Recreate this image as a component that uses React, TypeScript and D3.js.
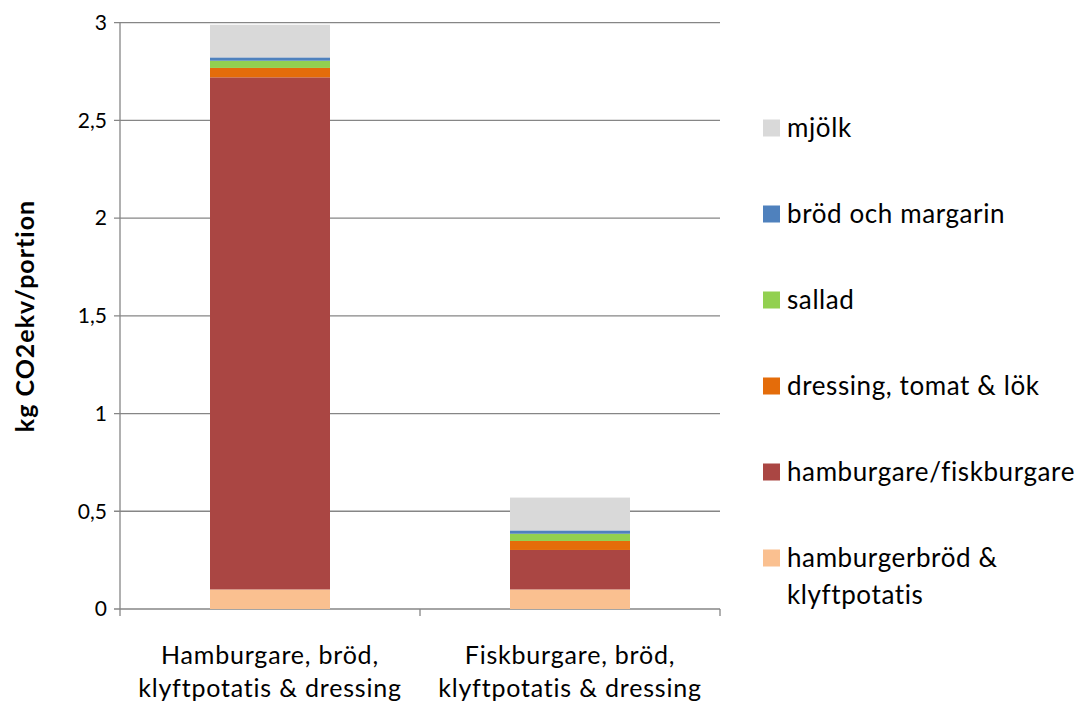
import React from "react";
import * as d3 from "d3";

const categories = [
  ["Hamburgare, bröd,", "klyftpotatis & dressing"],
  ["Fiskburgare, bröd,", "klyftpotatis & dressing"],
];
const seriesNames = [
  "hamburgerbröd & klyftpotatis",
  "hamburgare/fiskburgare",
  "dressing, tomat & lök",
  "sallad",
  "bröd och margarin",
  "mjölk",
];
const seriesColors = ["#FAC090", "#AA4643", "#E46C0A", "#92D050", "#4F81BD", "#D9D9D9"];
const brodKlyft = [0.1, 0.1];
const burgare = [2.62, 0.202];
const dressing = [0.048, 0.046];
const sallad = [0.037, 0.037];
const brodMargarin = [0.017, 0.017];
const mjolk = [0.167, 0.168];
const yTicks = [0, 0.5, 1, 1.5, 2, 2.5, 3];
const legendLabels = [
  ["mjölk"],
  ["bröd och margarin"],
  ["sallad"],
  ["dressing, tomat & lök"],
  ["hamburgare/fiskburgare"],
  ["hamburgerbröd &", "klyftpotatis"],
];
const legendColors = ["#D9D9D9", "#4F81BD", "#92D050", "#E46C0A", "#AA4643", "#FAC090"];

export default function App() {
  const W = 1082, H = 702;
  const left = 120, right = 720, top = 22.6, bottom = 609;
  const font = "Lato, sans-serif";
  const y = d3.scaleLinear().domain([0, 3]).range([bottom, top]);
  const x = d3.scaleBand().domain(["0", "1"]).range([left, right]).paddingInner(0.6).paddingOuter(0.3);
  const values = [brodKlyft, burgare, dressing, sallad, brodMargarin, mjolk];
  const rows = categories.map((_, i) => {
    const r: any = { i };
    seriesNames.forEach((s, k) => (r[s] = values[k][i]));
    return r;
  });
  const stacked = d3.stack<any>().keys(seriesNames)(rows);
  const axisColor = "#868686";
  const fmt = (v: number) => String(v).replace(".", ",");
  return (
    <svg width={W} height={H} style={{ position: "absolute", left: 0, top: 0 }}>
      <rect width={W} height={H} fill="#fff" />
      {yTicks.map((t) => (
        <g key={t}>
          <line x1={left - 6} x2={right} y1={y(t)} y2={y(t)} stroke={axisColor} strokeWidth={1.3} />
          <text x={107} y={y(t)} dy="0.35em" textAnchor="end" fontFamily={font} fontSize={21} fill="#000">
            {fmt(t)}
          </text>
        </g>
      ))}
      <line x1={left} x2={left} y1={top} y2={bottom} stroke={axisColor} strokeWidth={1.3} />
      {[left, (left + right) / 2, right].map((px) => (
        <line key={px} x1={px} x2={px} y1={bottom} y2={bottom + 7} stroke={axisColor} strokeWidth={1.3} />
      ))}
      {stacked.map((s, k) =>
        s.map((d, i) => (
          <rect
            key={k + "-" + i}
            x={x(String(i))}
            width={x.bandwidth()}
            y={y(d[1])}
            height={y(d[0]) - y(d[1])}
            fill={seriesColors[k]}
          />
        ))
      )}
      {categories.map((lines, i) =>
        lines.map((l, j) => (
          <text
            key={i + "-" + j}
            x={(x(String(i)) as number) + x.bandwidth() / 2}
            y={664 + j * 33}
            textAnchor="middle"
            fontFamily={font}
            fontSize={25}
            letterSpacing={0.8}
            fill="#000"
          >
            {l}
          </text>
        ))
      )}
      <text
        transform="translate(34,316) rotate(-90)"
        textAnchor="middle"
        fontFamily={font}
        fontSize={25}
        letterSpacing={1}
        fontWeight="bold"
        fill="#000"
      >
        kg CO2ekv/portion
      </text>
      {legendLabels.map((lines, k) => {
        const cy = 128 + k * 86;
        return (
          <g key={k}>
            <rect x={763} y={cy - 8.5} width={17} height={17} fill={legendColors[k]} />
            {lines.map((l, j) => (
              <text
                key={j}
                x={787}
                y={cy + j * 37}
                dy="0.35em"
                fontFamily={font}
                fontSize={26}
                letterSpacing={0.6}
                fill="#000"
              >
                {l}
              </text>
            ))}
          </g>
        );
      })}
    </svg>
  );
}
